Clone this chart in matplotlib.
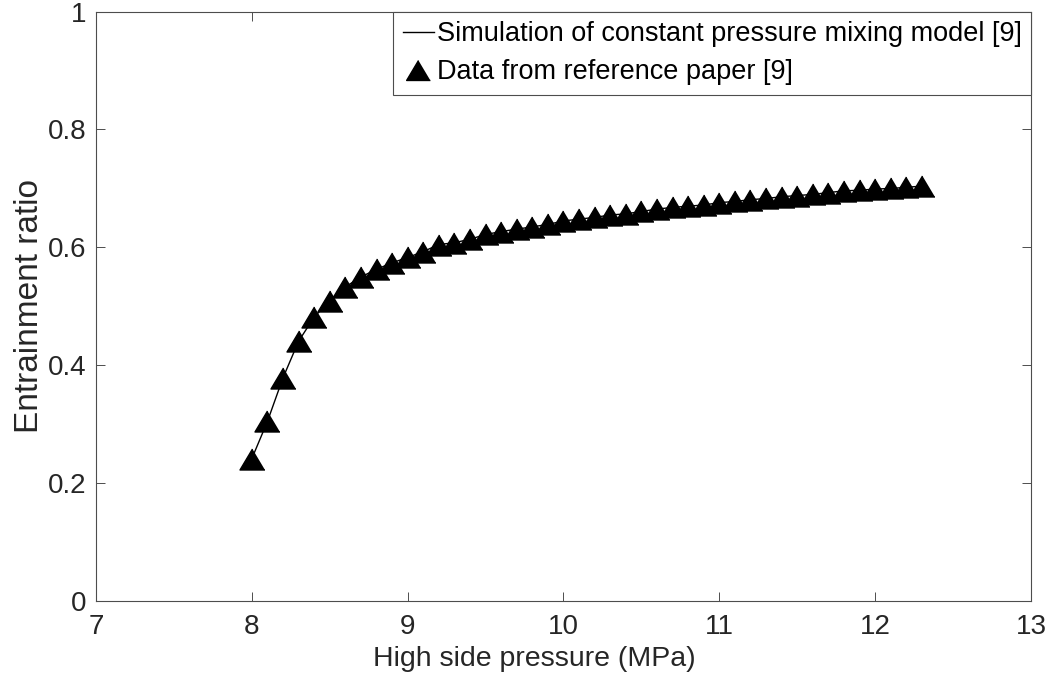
import matplotlib
matplotlib.use("Agg")
import matplotlib.pyplot as plt

plt.rcParams['font.family'] = ['Liberation Sans', 'DejaVu Sans']

# Data
pressure = [8.0, 8.1, 8.2, 8.3, 8.4, 8.5, 8.6, 8.7, 8.8, 8.9,
            9.0, 9.1, 9.2, 9.3, 9.4, 9.5, 9.6, 9.7, 9.8, 9.9,
            10.0, 10.1, 10.2, 10.3, 10.4, 10.5, 10.6, 10.7, 10.8, 10.9,
            11.0, 11.1, 11.2, 11.3, 11.4, 11.5, 11.6, 11.7, 11.8, 11.9,
            12.0, 12.1, 12.2, 12.3]
ref_ratio = [0.242, 0.305, 0.379, 0.441, 0.482, 0.510, 0.533, 0.550, 0.563, 0.574,
             0.583, 0.593, 0.605, 0.608, 0.614, 0.622, 0.627, 0.631, 0.635, 0.639,
             0.645, 0.648, 0.651, 0.655, 0.657, 0.661, 0.665, 0.668, 0.670, 0.672,
             0.676, 0.678, 0.681, 0.683, 0.686, 0.688, 0.690, 0.693, 0.696, 0.697,
             0.699, 0.700, 0.702, 0.704]
sim_pressure = pressure
sim_ratio = ref_ratio

xticks = [7, 8, 9, 10, 11, 12, 13]
yticks = [0, 0.2, 0.4, 0.6, 0.8, 1]
ytick_labels = ['0', '0.2', '0.4', '0.6', '0.8', '1']

fig = plt.figure(figsize=(10.54, 6.93), dpi=100)
ax = fig.add_axes([96/1054, 1 - 601.4/693, (1031 - 96)/1054, (601.4 - 11.5)/693])

tri = [(0, 0.84), (-1, -0.84), (1, -0.84)]
ax.plot(sim_pressure, sim_ratio, color='black', lw=1.0,
        label='Simulation of constant pressure mixing model [9]')
ax.plot(pressure, ref_ratio, linestyle='none', marker=tri, markersize=18,
        color='black', label='Data from reference paper [9]')

ax.set_xlim(7, 13)
ax.set_ylim(0, 1)
ax.set_xticks(xticks)
ax.set_xticklabels([str(t) for t in xticks])
ax.set_yticks(yticks)
ax.set_yticklabels(ytick_labels)

tc = '#262626'
for s in ax.spines.values():
    s.set_color('#4d4d4d')
    s.set_linewidth(0.8)
ax.tick_params(direction='in', length=6.5, width=0.7, color='#4d4d4d',
               labelsize=20, labelcolor=tc, top=True, right=True)
ax.tick_params(axis='x', pad=9)
ax.tick_params(axis='y', pad=7)

ax.set_xlabel('High side pressure (MPa)', fontsize=20.5, color=tc)
ax.xaxis.set_label_coords((534 - 96) / 935, (601.4 - 646) / 589.9)
ax.set_ylabel('Entrainment ratio', fontsize=24, color=tc, labelpad=2)

leg = ax.legend(loc='upper right', bbox_to_anchor=(1, 1), borderaxespad=0,
                fontsize=19.5, frameon=True, fancybox=False, framealpha=1,
                handlelength=1.15, handletextpad=0.1, borderpad=0.35,
                labelspacing=0.45, markerscale=0.95)
leg.get_frame().set_edgecolor('#4d4d4d')
leg.get_frame().set_linewidth(0.8)
for t in leg.get_texts():
    t.set_color('black')

fig.savefig('out.png', dpi=100)
